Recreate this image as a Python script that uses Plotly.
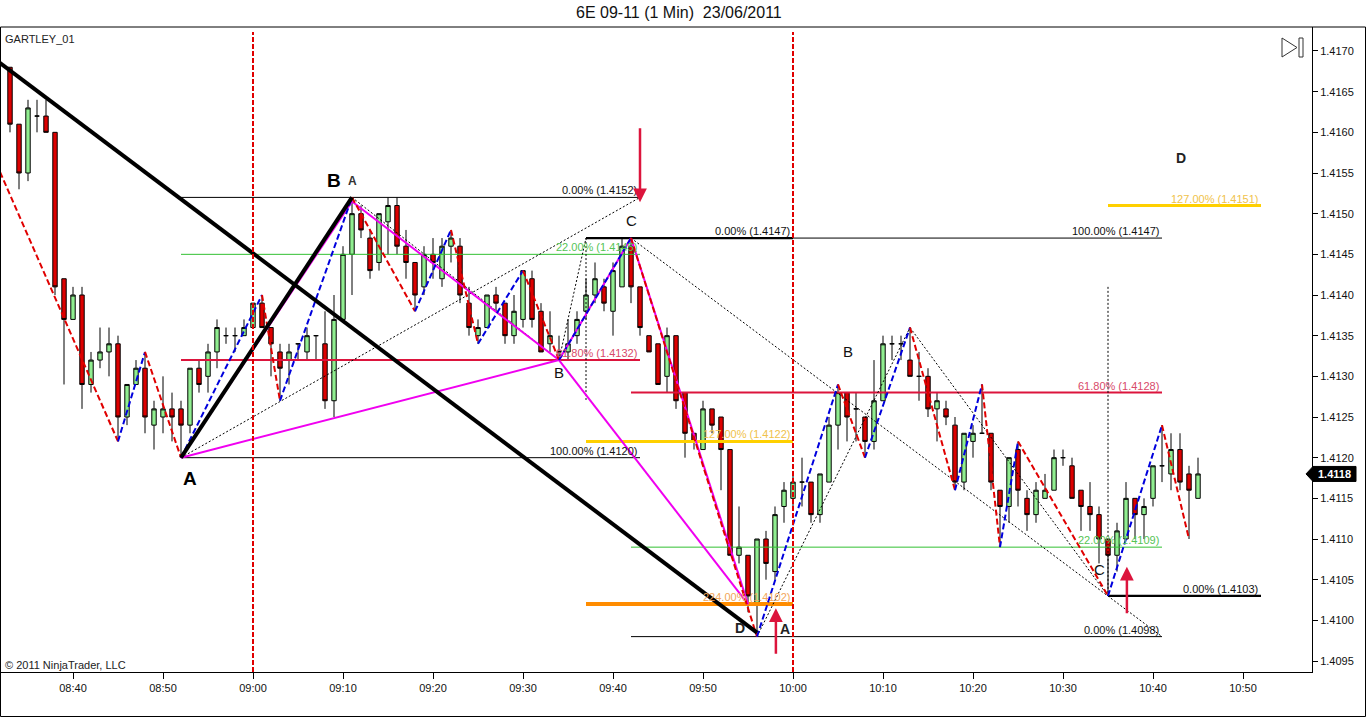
import plotly.graph_objects as go
import pandas as pd

# ---------------- data ----------------
DATE = "2011-06-23"
FIRST_BAR = "08:33"          # first 1-minute bar
opens = [1.4168, 1.4161, 1.4155, 1.4162, 1.4162, 1.4160, 1.4142, 1.4137, 1.4140, 1.4129,
         1.4132, 1.4133, 1.4134, 1.4125, 1.4129, 1.4131, 1.4124, 1.4125, 1.4126, 1.4126,
         1.4124, 1.4131, 1.4130, 1.4133, 1.4135, 1.4135, 1.4135, 1.4136, 1.4139, 1.4136,
         1.4133, 1.4132, 1.4134, 1.4133, 1.4135, 1.4134, 1.4127, 1.4137, 1.4145, 1.4150,
         1.4147, 1.4144, 1.4149, 1.4151, 1.4146, 1.4144, 1.4141, 1.4145, 1.4142, 1.4146,
         1.4146, 1.4139, 1.4135, 1.4136, 1.4140, 1.4139, 1.4135, 1.4137, 1.4142, 1.4138,
         1.4134, 1.4133, 1.4133, 1.4135, 1.4138, 1.4140, 1.4141, 1.4138, 1.4141, 1.4146,
         1.4141, 1.4135, 1.4134, 1.4130, 1.4135, 1.4128, 1.4123, 1.4121, 1.4126, 1.4125,
         1.4121, 1.4108, 1.4108, 1.4102, 1.4110, 1.4106, 1.4114, 1.4115, 1.4117, 1.4117,
         1.4113, 1.4117, 1.4124, 1.4128, 1.4126, 1.4125, 1.4122, 1.4127, 1.4134, 1.4134,
         1.4132, 1.4130, 1.4130, 1.4126, 1.4126, 1.4124, 1.4117, 1.4122, 1.4123, 1.4123,
         1.4116, 1.4114, 1.4121, 1.4115, 1.4113, 1.4115, 1.4116, 1.4120, 1.4119, 1.4116,
         1.4114, 1.4113, 1.4110, 1.4108, 1.4110, 1.4115, 1.4113, 1.4115, 1.4119, 1.4118,
         1.4121, 1.4118, 1.4115]
highs = [1.4168, 1.4161, 1.4164, 1.4164, 1.4164, 1.4160, 1.4142, 1.4141, 1.4141, 1.4133,
         1.4136, 1.4136, 1.4135, 1.4129, 1.4132, 1.4133, 1.4127, 1.4130, 1.4128, 1.4127,
         1.4131, 1.4132, 1.4134, 1.4137, 1.4136, 1.4136, 1.4137, 1.4139, 1.4140, 1.4136,
         1.4134, 1.4134, 1.4134, 1.4136, 1.4135, 1.4138, 1.4140, 1.4146, 1.4152, 1.4151,
         1.4148, 1.4150, 1.4152, 1.4152, 1.4148, 1.4144, 1.4146, 1.4147, 1.4147, 1.4148,
         1.4147, 1.4141, 1.4137, 1.4140, 1.4141, 1.4139, 1.4140, 1.4143, 1.4143, 1.4139,
         1.4138, 1.4135, 1.4137, 1.4138, 1.4142, 1.4144, 1.4142, 1.4144, 1.4147, 1.4147,
         1.4141, 1.4135, 1.4134, 1.4136, 1.4135, 1.4128, 1.4123, 1.4127, 1.4126, 1.4125,
         1.4121, 1.4114, 1.4108, 1.4110, 1.4111, 1.4114, 1.4117, 1.4118, 1.4120, 1.4117,
         1.4118, 1.4125, 1.4129, 1.4128, 1.4128, 1.4125, 1.4132, 1.4135, 1.4135, 1.4135,
         1.4136, 1.4133, 1.4131, 1.4128, 1.4127, 1.4125, 1.4123, 1.4124, 1.4129, 1.4123,
         1.4116, 1.4120, 1.4122, 1.4116, 1.4117, 1.4118, 1.4121, 1.4121, 1.4120, 1.4116,
         1.4117, 1.4114, 1.4110, 1.4112, 1.4117, 1.4115, 1.4115, 1.4119, 1.4124, 1.4123,
         1.4123, 1.4119, 1.4120]
lows = [1.4160, 1.4153, 1.4154, 1.4160, 1.4160, 1.4140, 1.4129, 1.4137, 1.4126, 1.4128,
        1.4131, 1.4130, 1.4122, 1.4124, 1.4129, 1.4123, 1.4121, 1.4123, 1.4122, 1.4120,
        1.4123, 1.4128, 1.4128, 1.4131, 1.4134, 1.4133, 1.4135, 1.4136, 1.4136, 1.4130,
        1.4127, 1.4129, 1.4132, 1.4132, 1.4132, 1.4126, 1.4125, 1.4137, 1.4140, 1.4147,
        1.4142, 1.4143, 1.4145, 1.4145, 1.4142, 1.4138, 1.4140, 1.4142, 1.4141, 1.4144,
        1.4139, 1.4135, 1.4134, 1.4136, 1.4138, 1.4134, 1.4134, 1.4136, 1.4136, 1.4133,
        1.4133, 1.4132, 1.4132, 1.4134, 1.4137, 1.4139, 1.4138, 1.4135, 1.4141, 1.4139,
        1.4135, 1.4133, 1.4129, 1.4128, 1.4126, 1.4120, 1.4121, 1.4121, 1.4123, 1.4116,
        1.4108, 1.4107, 1.4101, 1.4098, 1.4105, 1.4105, 1.4112, 1.4114, 1.4114, 1.4112,
        1.4112, 1.4117, 1.4121, 1.4122, 1.4122, 1.4120, 1.4121, 1.4127, 1.4132, 1.4132,
        1.4130, 1.4127, 1.4125, 1.4122, 1.4124, 1.4116, 1.4116, 1.4120, 1.4123, 1.4116,
        1.4109, 1.4112, 1.4114, 1.4111, 1.4112, 1.4115, 1.4116, 1.4119, 1.4115, 1.4111,
        1.4111, 1.4107, 1.4103, 1.4106, 1.4110, 1.4110, 1.4110, 1.4114, 1.4117, 1.4116,
        1.4116, 1.4110, 1.4115]
closes = [1.4161, 1.4155, 1.4163, 1.4162, 1.4160, 1.4141, 1.4137, 1.4140, 1.4129, 1.4132,
          1.4133, 1.4134, 1.4125, 1.4129, 1.4131, 1.4125, 1.4126, 1.4126, 1.4125, 1.4124,
          1.4131, 1.4129, 1.4133, 1.4136, 1.4135, 1.4135, 1.4136, 1.4139, 1.4136, 1.4134,
          1.4131, 1.4133, 1.4134, 1.4135, 1.4135, 1.4127, 1.4137, 1.4145, 1.4150, 1.4148,
          1.4143, 1.4150, 1.4151, 1.4146, 1.4144, 1.4140, 1.4145, 1.4144, 1.4146, 1.4147,
          1.4140, 1.4136, 1.4136, 1.4140, 1.4139, 1.4135, 1.4138, 1.4143, 1.4137, 1.4133,
          1.4135, 1.4133, 1.4134, 1.4137, 1.4140, 1.4142, 1.4139, 1.4143, 1.4146, 1.4141,
          1.4136, 1.4133, 1.4129, 1.4135, 1.4127, 1.4123, 1.4122, 1.4126, 1.4124, 1.4121,
          1.4108, 1.4109, 1.4103, 1.4110, 1.4107, 1.4113, 1.4116, 1.4117, 1.4117, 1.4113,
          1.4118, 1.4124, 1.4128, 1.4125, 1.4126, 1.4122, 1.4127, 1.4134, 1.4134, 1.4134,
          1.4130, 1.4130, 1.4126, 1.4127, 1.4125, 1.4117, 1.4123, 1.4123, 1.4123, 1.4117,
          1.4114, 1.4120, 1.4116, 1.4113, 1.4116, 1.4116, 1.4120, 1.4120, 1.4115, 1.4114,
          1.4113, 1.4110, 1.4108, 1.4111, 1.4115, 1.4113, 1.4114, 1.4119, 1.4119, 1.4121,
          1.4117, 1.4116, 1.4118]

# ZigZag swing points (bar index, price)
zig_idx = [-1.1, 12, 15, 19, 28, 30, 38, 45, 49, 52, 57, 61, 69, 83, 92, 95, 100, 105,
           108, 110, 112, 122, 128, 131]
zig_price = [1.41551, 1.4122, 1.4133, 1.4120, 1.4140, 1.4127, 1.4152, 1.4138, 1.4148, 1.4134,
             1.4143, 1.4132, 1.4147, 1.4098, 1.4129, 1.4120, 1.4136, 1.4116, 1.4129, 1.4109,
             1.4122, 1.4103, 1.4124, 1.4110]

# Gartley XABCD points
gart_idx = [19, 38, 61, 69, 82]
gart_price = [1.4120, 1.41515, 1.4132, 1.4147, 1.4102]
gart_edges = [(0, 1), (1, 2), (2, 3), (3, 4), (0, 2), (2, 4)]

# thick black trend lines (idx0, p0, idx1, p1)
thick_lines = [(-1.2, 1.41686, 83, 1.40985), (19, 1.4120, 38, 1.4152)]

# thin dotted construction lines
dotted_lines = [(19, 1.4120, 70, 1.4152), (38, 1.4152, 61, 1.4132), (61, 1.4132, 64, 1.4147),
                (64, 1.4147, 64, 1.41271), (69, 1.4147, 128, 1.4098), (83, 1.4098, 100, 1.4136),
                (100, 1.4136, 122, 1.4103), (122, 1.41410, 122, 1.4103)]

# fibonacci levels
lvl_start = [19, 19, 19, 19, 64, 64, 64, 64, 69, 69, 69, 122, 122]
lvl_end = [70, 70, 70, 70, 87, 87, 87, 128, 128, 128, 128, 139, 139]
lvl_price = [1.4152, 1.4145, 1.4132, 1.4120, 1.4147, 1.4122, 1.4102, 1.4147, 1.4128, 1.4109,
             1.4098, 1.4103, 1.4151]
lvl_label = ["0.00% (1.4152)", "22.00% (1.4145)", "61.80% (1.4132)", "100.00% (1.4120)",
             "0.00% (1.4147)", "127.00% (1.4122)", "224.00% (1.4102)", "100.00% (1.4147)",
             "61.80% (1.4128)", "22.00% (1.4109)", "0.00% (1.4098)", "0.00% (1.4103)",
             "127.00% (1.4151)"]
lvl_kind = ["black", "green", "red", "black", "blackbold", "gold", "orange", "black",
            "red", "green", "black", "blackbold", "gold"]

# pattern letters (idx, price, text, style)
letters = [(20.0, 1.41175, "A", "big"), (36.0, 1.41541, "B", "big"), (38.1, 1.41540, "A", "small"),
           (61.0, 1.41305, "B", "mid"), (69.1, 1.41491, "C", "mid"), (81.1, 1.40991, "D", "midb"),
           (86.1, 1.40989, "A", "midb"), (93.1, 1.41331, "B", "mid"), (121.0, 1.41062, "C", "mid"),
           (130.1, 1.41568, "D", "midb")]

# signal arrows (idx, tail price, head price)
arrows = [(70, 1.41607, 1.41514), (85.1, 1.40957, 1.41015), (124.1, 1.41007, 1.41066)]

session_lines = ["09:00", "10:00"]
x_ticks = ["08:40", "08:50", "09:00", "09:10", "09:20", "09:30", "09:40", "09:50",
           "10:00", "10:10", "10:20", "10:30", "10:40", "10:50"]
y_ticks = [1.4095, 1.4100, 1.4105, 1.4110, 1.4115, 1.4120, 1.4125, 1.4130, 1.4135,
           1.4140, 1.4145, 1.4150, 1.4155, 1.4160, 1.4165, 1.4170]
last_price = 1.4118

# ---------------- helpers ----------------
base = pd.Timestamp(f"{DATE} {FIRST_BAR}:00")


def T(i):
    return (base + pd.Timedelta(seconds=round(i * 60))).strftime("%Y-%m-%d %H:%M:%S")


W, H = 1366, 718
ML, MR, MT, MB = 1, 54, 27, 46
PW, PH = W - ML - MR, H - MT - MB


def xp(px):
    return (px - ML) / PW


def yp(py):
    return (H - MB - py) / PH


FONT = "Liberation Sans, Arial, sans-serif"
RED = "#e00000"
BLUE = "#0000dd"
MAGENTA = "#f000f0"
CRIMSON = "#dc143c"
style = {
    "black": dict(color="black", width=1, text="#111111"),
    "blackbold": dict(color="black", width=2.2, text="#111111"),
    "green": dict(color="#32c032", width=1, text="#55c455"),
    "red": dict(color=CRIMSON, width=2, text="#d84a6a"),
    "gold": dict(color="#ffd000", width=3, text="#f0c24a"),
    "orange": dict(color="#ff8c00", width=4, text="#f2a65a"),
}

fig = go.Figure()

times = [T(i) for i in range(len(opens))]
fig.add_trace(go.Candlestick(
    x=times, open=opens, high=highs, low=lows, close=closes,
    increasing=dict(fillcolor="#90ee90", line=dict(color="black", width=1)),
    decreasing=dict(fillcolor="#dd0000", line=dict(color="black", width=1)),
    whiskerwidth=0, showlegend=False, hoverinfo="skip"))


def add_line(x0, y0, x1, y1, color, width, dash="solid"):
    fig.add_trace(go.Scatter(x=[T(x0), T(x1)], y=[y0, y1], mode="lines",
                             line=dict(color=color, width=width, dash=dash),
                             showlegend=False, hoverinfo="skip"))


# fib levels
for s, e, p, k in zip(lvl_start, lvl_end, lvl_price, lvl_kind):
    add_line(s, p, e, p, style[k]["color"], style[k]["width"])

# dotted construction
for (a, pa, b, pb) in dotted_lines:
    add_line(a, pa, b, pb, "black", 1, "2px,2px")

# gartley magenta
for (a, b) in gart_edges:
    add_line(gart_idx[a], gart_price[a], gart_idx[b], gart_price[b], MAGENTA, 2)

# zigzag
for k in range(len(zig_idx) - 1):
    up = zig_price[k + 1] > zig_price[k]
    add_line(zig_idx[k], zig_price[k], zig_idx[k + 1], zig_price[k + 1],
             BLUE if up else RED, 2, "6px,3px")

# thick black lines
for (a, pa, b, pb) in thick_lines:
    add_line(a, pa, b, pb, "black", 4)

annotations = []
# level labels
for e, p, lab, k in zip(lvl_end, lvl_price, lvl_label, lvl_kind):
    annotations.append(dict(x=T(e), y=p, xref="x", yref="y", text=lab, showarrow=False,
                            xanchor="right", yanchor="bottom", xshift=-1, yshift=-1,
                            font=dict(family=FONT, size=11, color=style[k]["text"])))

letter_font = {
    "big": dict(size=19, color="black", bold=True),
    "small": dict(size=12, color="#333333", bold=True),
    "mid": dict(size=15, color="#111111", bold=False),
    "midb": dict(size=14, color="#222222", bold=True),
}
for (i, p, txt, st) in letters:
    f = letter_font[st]
    t = f"<b>{txt}</b>" if f["bold"] else txt
    annotations.append(dict(x=T(i), y=p, xref="x", yref="y", text=t, showarrow=False,
                            xanchor="center", yanchor="middle",
                            font=dict(family=FONT, size=f["size"], color=f["color"])))

for (i, tail, head) in arrows:
    annotations.append(dict(x=T(i), y=head, ax=T(i), ay=tail, xref="x", yref="y",
                            axref="x", ayref="y", text="", showarrow=True,
                            arrowhead=2, arrowsize=1.1, arrowwidth=2.5,
                            arrowcolor=CRIMSON, standoff=0, startstandoff=0))

# texts
annotations.append(dict(x=xp(679), y=yp(13), xref="paper", yref="paper",
                        text="6E 09-11 (1 Min)  23/06/2011", showarrow=False,
                        xanchor="center", yanchor="middle",
                        font=dict(family=FONT, size=16, color="#111111")))
annotations.append(dict(x=xp(3), y=yp(39), xref="paper", yref="paper", text="GARTLEY_01",
                        showarrow=False, xanchor="left", yanchor="middle",
                        font=dict(family=FONT, size=11, color="#222222")))
annotations.append(dict(x=xp(3), y=yp(665), xref="paper", yref="paper",
                        text="© 2011 NinjaTrader, LLC", showarrow=False,
                        xanchor="left", yanchor="middle",
                        font=dict(family=FONT, size=11, color="#222222")))
annotations.append(dict(x=xp(1334), y=last_price, xref="paper", yref="y",
                        text=f"<b>{last_price:.4f}</b>", showarrow=False,
                        xanchor="center", yanchor="middle",
                        font=dict(family=FONT, size=11, color="white")))

shapes = []
for s in session_lines:
    shapes.append(dict(type="line", xref="x", yref="paper",
                       x0=f"{DATE} {s}:00", x1=f"{DATE} {s}:00", y0=0, y1=yp(32),
                       line=dict(color=RED, width=2, dash="5px,2px")))
# outer frame
shapes.append(dict(type="rect", xref="paper", yref="paper", x0=xp(0.5), x1=xp(1365.5),
                   y0=yp(716.5), y1=1, line=dict(color="black", width=1), layer="above"))
# last price tag
dp = 7.5 / 81333
path = (f"M {xp(1306)} {last_price} L {xp(1313)} {last_price + dp} L {xp(1356)} {last_price + dp} "
        f"L {xp(1356)} {last_price - dp} L {xp(1313)} {last_price - dp} Z")
shapes.append(dict(type="path", xref="paper", yref="y", path=path,
                   fillcolor="black", line=dict(color="black", width=1), layer="above"))
# play-to-end icon
tri = f"M {xp(1282)} {yp(38)} L {xp(1297)} {yp(47.5)} L {xp(1282)} {yp(57)} Z"
shapes.append(dict(type="path", xref="paper", yref="paper", path=tri,
                   line=dict(color="#333333", width=1), fillcolor="rgba(0,0,0,0)"))
shapes.append(dict(type="rect", xref="paper", yref="paper", x0=xp(1299), x1=xp(1303),
                   y0=yp(57), y1=yp(38), line=dict(color="#333333", width=1)))

fig.update_layout(
    width=W, height=H, margin=dict(l=ML, r=MR, t=MT, b=MB),
    paper_bgcolor="white", plot_bgcolor="white",
    showlegend=False, annotations=annotations, shapes=shapes,
    font=dict(family=FONT, size=11, color="#111111"),
    xaxis=dict(type="date", range=[f"{DATE} 08:32:00", f"{DATE} 10:57:40"],
               rangeslider=dict(visible=False), showgrid=False, zeroline=False,
               tickvals=[f"{DATE} {t}:00" for t in x_ticks], ticktext=x_ticks,
               ticks="outside", ticklen=6, tickcolor="black", showline=True,
               linecolor="black", linewidth=1, tickfont=dict(family=FONT, size=11, color="#111111")),
    yaxis=dict(side="right", range=[1.409365, 1.417295], showgrid=False, zeroline=False,
               tickvals=y_ticks, ticktext=[f"{v:.4f}" for v in y_ticks],
               ticks="outside", ticklen=5, tickcolor="black", showline=True,
               linecolor="black", linewidth=1, tickfont=dict(family=FONT, size=11, color="#111111")),
)

fig.write_html("out.html", config={"displayModeBar": False},
               post_script="document.body.style.margin='0px';document.body.style.overflow='hidden';")
